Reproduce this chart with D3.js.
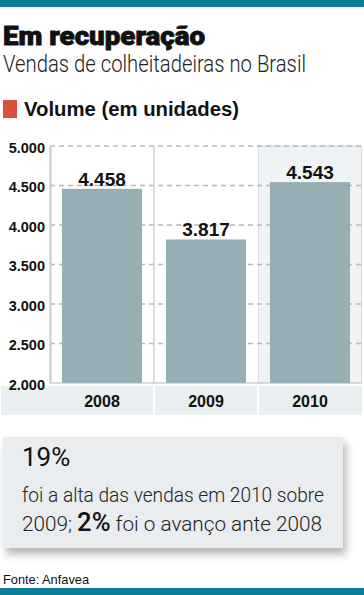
<!DOCTYPE html>
<html>
<head>
<meta charset="utf-8">
<title>Em recuperação</title>
<script src="https://cdn.jsdelivr.net/npm/d3@7"></script>
<style>
  body { margin: 0; background: #fff; }
  svg { display: block; font-family: "Liberation Sans", Arial, sans-serif; }
</style>
</head>
<body>
<script>
// dados
var years = ['2008', '2009', '2010']
var volumes = [4458, 3817, 4543]
var yTicks = [2000, 2500, 3000, 3500, 4000, 4500, 5000]
var highlightYear = '2010'

var data = years.map(function (y, i) { return { year: y, value: volumes[i] } })

var W = 364, H = 595
var teal = '#0b7e97'
var barColor = '#97aeb4'

var ptBR = d3.formatLocale({ decimal: ',', thousands: '.', grouping: [3], currency: ['R$', ''] })
var fmt = ptBR.format(',')

var svg = d3.select('body').append('svg')
    .attr('width', W)
    .attr('height', H)

// faixas teal
svg.append('rect').attr('x', 0).attr('y', 0).attr('width', W).attr('height', 7).attr('fill', teal)
svg.append('rect').attr('x', 0).attr('y', 588).attr('width', W).attr('height', 7).attr('fill', teal)

// titulo
svg.append('text')
    .attr('x', 3).attr('y', 45)
    .attr('font-size', 25).attr('font-weight', 900)
    .style('font-family', 'Roboto, sans-serif')
    .attr('stroke', '#111').attr('stroke-width', 0.8)
    .attr('textLength', 202).attr('lengthAdjust', 'spacingAndGlyphs')
    .attr('fill', '#111')
    .text('Em recuperação')

svg.append('text')
    .attr('x', 3).attr('y', 72)
    .attr('font-size', 23).attr('font-weight', 300)
    .style('font-family', 'Roboto, sans-serif')
    .attr('textLength', 303).attr('lengthAdjust', 'spacingAndGlyphs')
    .attr('fill', '#222')
    .text('Vendas de colheitadeiras no Brasil')

// legenda
svg.append('rect').attr('x', 3).attr('y', 100).attr('width', 14).attr('height', 18).attr('fill', '#d9503f')
svg.append('text')
    .attr('x', 24).attr('y', 116)
    .attr('font-size', 20).attr('font-weight', 700)
    .attr('textLength', 215).attr('lengthAdjust', 'spacingAndGlyphs')
    .attr('fill', '#111')
    .text('Volume (em unidades)')

// escalas
var plotLeft = 50, plotRight = 362, plotTop = 146, plotBottom = 383

var xCol = d3.scaleBand().domain(years).range([plotLeft, plotRight]).padding(0)
var xBar = d3.scaleBand().domain(years).range([plotLeft, plotRight]).paddingInner(0.23).paddingOuter(0.115)
var yScale = d3.scaleLinear().domain([2000, 5000]).range([plotBottom, plotTop])

// coluna destacada
svg.append('rect')
    .attr('x', xCol(highlightYear) + 0.5)
    .attr('y', plotTop)
    .attr('width', xCol.bandwidth() - 1)
    .attr('height', plotBottom - plotTop)
    .attr('fill', '#eff3f5')
    .attr('stroke', '#d6dee1')
    .attr('stroke-width', 1)

// grade tracejada
svg.append('g').selectAll('line')
    .data(yTicks.slice(1))
    .enter().append('line')
    .attr('x1', plotLeft).attr('x2', plotRight)
    .attr('y1', function (d) { return yScale(d) })
    .attr('y2', function (d) { return yScale(d) })
    .attr('stroke', '#b9b9b9')
    .attr('stroke-width', 1.3)
    .attr('stroke-dasharray', '5,4')

// linha de base
svg.append('line')
    .attr('x1', plotLeft).attr('x2', plotRight)
    .attr('y1', plotBottom).attr('y2', plotBottom)
    .attr('stroke', '#cfcfcf').attr('stroke-width', 1.3)

// separador entre 2008 e 2009
svg.append('line')
    .attr('x1', xCol('2009')).attr('x2', xCol('2009'))
    .attr('y1', plotTop).attr('y2', plotBottom)
    .attr('stroke', '#cfcfcf').attr('stroke-width', 1.5)

// barras
svg.append('g').selectAll('rect')
    .data(data)
    .enter().append('rect')
    .attr('x', function (d) { return xBar(d.year) })
    .attr('y', function (d) { return yScale(d.value) })
    .attr('width', xBar.bandwidth())
    .attr('height', function (d) { return plotBottom - yScale(d.value) })
    .attr('fill', barColor)

// valores
svg.append('g').selectAll('text')
    .data(data)
    .enter().append('text')
    .attr('x', function (d) { return xBar(d.year) + xBar.bandwidth() / 2 })
    .attr('y', function (d) { return yScale(d.value) - 3 })
    .attr('text-anchor', 'middle')
    .attr('font-size', 19).attr('font-weight', 700)
    .attr('fill', '#111')
    .text(function (d) { return fmt(d.value) })

// faixa dos anos
svg.append('rect').attr('x', 1).attr('y', 386).attr('width', plotRight - 1).attr('height', 29).attr('fill', '#e9eef0')
svg.append('g').selectAll('line')
    .data(['2009', '2010'])
    .enter().append('line')
    .attr('x1', function (d) { return xCol(d) }).attr('x2', function (d) { return xCol(d) })
    .attr('y1', 386).attr('y2', 415)
    .attr('stroke', '#fff').attr('stroke-width', 2)

var xAxis = d3.axisBottom(xCol).tickSize(0).tickPadding(0)
var gx = svg.append('g')
    .attr('transform', 'translate(0,' + 407 + ')')
    .call(xAxis)
gx.select('.domain').remove()
gx.selectAll('text')
    .attr('dy', 0)
    .attr('y', 0)
    .attr('font-size', 16).attr('font-weight', 700)
    .attr('fill', '#111')
    .style('font-family', '"Liberation Sans", Arial, sans-serif')

// eixo y
var yAxis = d3.axisLeft(yScale)
    .tickValues(yTicks)
    .tickSize(0)
    .tickPadding(5)
    .tickFormat(fmt)

var gy = svg.append('g')
    .attr('transform', 'translate(' + plotLeft + ',0)')
    .call(yAxis)
gy.select('.domain').attr('stroke', '#c8c8c8').attr('stroke-width', 2)
gy.selectAll('text')
    .attr('font-size', 14.5).attr('font-weight', 700)
    .attr('fill', '#111')
    .attr('dy', '0.42em')
    .style('font-family', '"Liberation Sans", Arial, sans-serif')

// caixa de destaque
var defs = svg.append('defs')
var f = defs.append('filter').attr('id', 'sh').attr('x', '-10%').attr('y', '-10%').attr('width', '130%').attr('height', '140%')
f.append('feGaussianBlur').attr('in', 'SourceAlpha').attr('stdDeviation', 4)
f.append('feOffset').attr('dx', 3).attr('dy', 6).attr('result', 'b')
f.append('feComponentTransfer').append('feFuncA').attr('type', 'linear').attr('slope', 0.3)
var m = f.append('feMerge')
m.append('feMergeNode')
m.append('feMergeNode').attr('in', 'SourceGraphic')

svg.append('rect')
    .attr('x', 3).attr('y', 437).attr('width', 340).attr('height', 111)
    .attr('fill', '#e9edf0')
    .attr('filter', 'url(#sh)')

svg.append('text')
    .attr('x', 22).attr('y', 466)
    .attr('font-size', 26).attr('font-weight', 400)
    .style('font-family', 'Roboto, sans-serif')
    .attr('fill', '#111')
    .text('19%')

svg.append('text')
    .attr('x', 22).attr('y', 502)
    .attr('font-size', 21).attr('font-weight', 300)
    .style('font-family', 'Roboto, sans-serif')
    .attr('textLength', 302).attr('lengthAdjust', 'spacingAndGlyphs')
    .attr('fill', '#222')
    .text('foi a alta das vendas em 2010 sobre')

var t3 = svg.append('text')
    .attr('x', 22).attr('y', 531)
    .attr('font-size', 21).attr('font-weight', 300)
    .style('font-family', 'Roboto, sans-serif')
    .attr('textLength', 300).attr('lengthAdjust', 'spacingAndGlyphs')
    .attr('fill', '#222')
t3.append('tspan').text('2009; ')
t3.append('tspan').attr('font-size', 26).attr('font-weight', 500).attr('fill', '#111').text('2%')
t3.append('tspan').text(' foi o avanço ante 2008')

// fonte
svg.append('text')
    .attr('x', 3).attr('y', 584)
    .attr('font-size', 13.5)
    .attr('textLength', 86).attr('lengthAdjust', 'spacingAndGlyphs')
    .attr('fill', '#111')
    .text('Fonte: Anfavea')
</script>
</body>
</html>
